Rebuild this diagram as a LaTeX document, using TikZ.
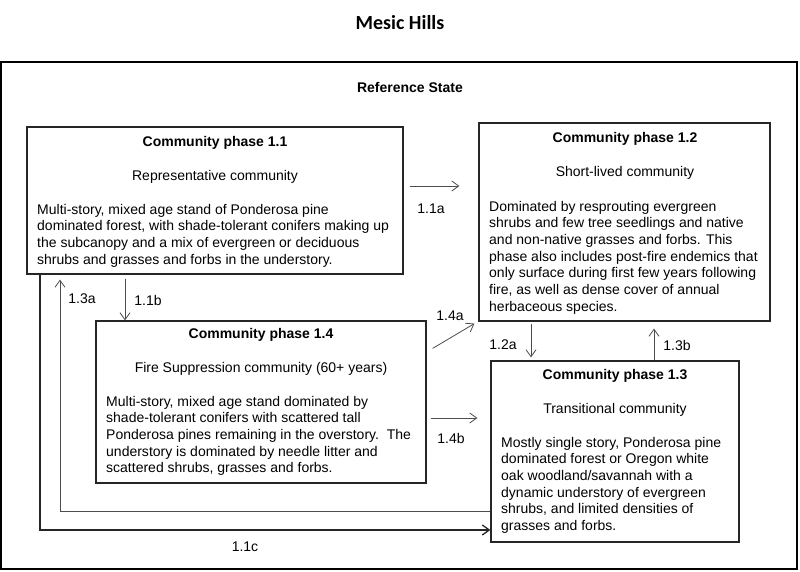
\documentclass[tikz,border=0pt]{standalone}
\usepackage{fontspec}
\setmainfont{Liberation Sans}
\newfontfamily\titlefont{Carlito}
\usetikzlibrary{arrows.meta}
\begin{document}
\begin{tikzpicture}[x=1pt,y=-1pt,
  every node/.style={font=\fontsize{14}{16.7}\selectfont},
  phasebox/.style={draw=black!85,line width=1.2pt,inner sep=0pt,fill=white},
  frame/.style={draw=black,line width=2.6pt,inner sep=0pt},
  ttl/.style={font=\fontsize{14}{16.7}\selectfont\bfseries,anchor=base,inner sep=0pt},
  sub/.style={anchor=base,inner sep=0pt},
  body/.style={anchor=base west,align=left,inner sep=0pt},
  lbl/.style={inner sep=0pt},
  arr/.style={draw=black!70,line width=0.8pt,-{Straight Barb[length=7pt,width=10pt]}},
  darr/.style={draw=black!85,line width=1.3pt,-{Straight Barb[length=7pt,width=10pt]}}
]
\useasboundingbox (0,0) rectangle (800,571);
\node[anchor=base,inner sep=0pt,font=\titlefont\fontsize{20}{24}\selectfont\bfseries] (title) at (400,29) {Mesic Hills};
\node[frame,minimum width=796,minimum height=507] (ref) at (399,315.5) {};
\node[ttl] (reftitle) at (410,92) {Reference State};

% boxes
\node[phasebox,minimum width=376,minimum height=147] (p11) at (215,200.5) {};
\node[phasebox,minimum width=291,minimum height=198] (p12) at (624.5,222) {};
\node[phasebox,minimum width=330,minimum height=162] (p14) at (261,402) {};
\node[phasebox,minimum width=248,minimum height=181] (p13) at (615,451.5) {};

% box 1.1 text
\node[ttl] (t11) at (215,146) {Community phase 1.1};
\node[sub] (s11) at (215,180) {Representative community};
\node[body] (b11) at (37,264.1) {Multi-story, mixed age stand of Ponderosa pine\\dominated forest, with shade-tolerant conifers making up\\the subcanopy and a mix of evergreen or deciduous\\shrubs and grasses and forbs in the understory.};

% box 1.2 text
\node[ttl] (t12) at (625,142) {Community phase 1.2};
\node[sub] (s12) at (625,176) {Short-lived community};
\node[body] (b12) at (489,311.2) {Dominated by resprouting evergreen\\shrubs and few tree seedlings and native\\and non-native grasses and forbs. This\\phase also includes post-fire endemics that\\only surface during first few years following\\fire, as well as dense cover of annual\\herbaceous species.};

% box 1.4 text
\node[ttl] (t14) at (261,338) {Community phase 1.4};
\node[sub] (s14) at (261,372) {Fire Suppression community (60+ years)};
\node[body] (b14) at (106,472.8) {Multi-story, mixed age stand dominated by\\shade-tolerant conifers with scattered tall\\Ponderosa pines remaining in the overstory.\ \ The\\understory is dominated by needle litter and\\scattered shrubs, grasses and forbs.};

% box 1.3 text
\node[ttl] (t13) at (615,379) {Community phase 1.3};
\node[sub] (s13) at (615,413) {Transitional community};
\node[body] (b13) at (501,530.5) {Mostly single story, Ponderosa pine\\dominated forest or Oregon white\\oak woodland/savannah with a\\dynamic understory of evergreen\\shrubs, and limited densities of\\grasses and forbs.};

% connectors
\draw[arr] ([xshift=6]p11.east |- 0,186) -- ([xshift=-19]p12.west |- 0,186);
\node[lbl] (l11a) at (431,209) {1.1a};

\draw[arr] ([yshift=-4]p11.south -| 125,0) -- (p14.north -| 125,0);
\node[lbl] (l11b) at (148,300) {1.1b};

\draw[arr] (p13.west |- 0,511) -| ([yshift=-5]p11.south -| 60,0);
\node[lbl] (l13a) at (82,299) {1.3a};

\draw[darr] (p11.south -| 40,0) |- (p13.west |- 0,530);
\node[lbl] (l11c) at (245,547) {1.1c};

\draw[arr] ([shift={(6,28)}]p14.north east) -- ([shift={(-4,2)}]p12.south west);
\node[lbl] (l14a) at (450,316) {1.4a};

\draw[arr] ([xshift=4]p14.east |- 0,418) -- ([xshift=-13]p13.west |- 0,418);
\node[lbl] (l14b) at (451,438) {1.4b};

\draw[arr] ([yshift=-2]p12.south -| 531,0) -- ([yshift=3]p13.north -| 531,0);
\node[lbl] (l12a) at (503,345) {1.2a};

\draw[arr] (p13.north -| 654,0) -- ([yshift=-7]p12.south -| 654,0);
\node[lbl] (l13b) at (677,345) {1.3b};
\end{tikzpicture}
\end{document}
